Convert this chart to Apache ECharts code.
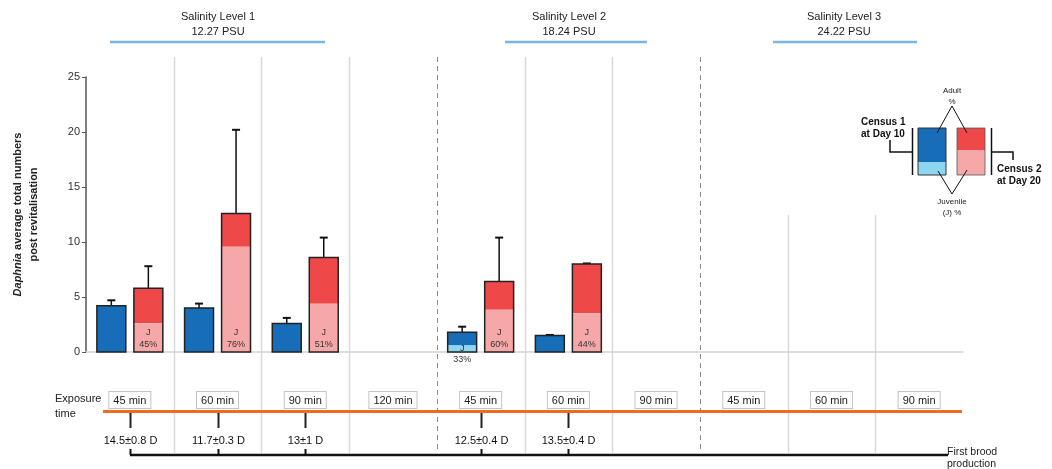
<!DOCTYPE html>
<html><head><meta charset="utf-8">
<script src="https://cdn.jsdelivr.net/npm/echarts@6/dist/echarts.min.js"></script>
<style>html,body{margin:0;padding:0;background:#fff}#c{width:1052px;height:469px}</style>
</head><body><div id="c"></div>
<script>
// ---------------- data ----------------
const categoryIds = ['S1-45','S1-60','S1-90','S1-120','S2-45','S2-60','S2-90','S3-45','S3-60','S3-90'];
const exposureLabels = ['45 min','60 min','90 min','120 min','45 min','60 min','90 min','45 min','60 min','90 min'];
const census1Totals = [4.2, 4.0, 2.6, null, 1.8, 1.5, null, null, null, null];
const census1ErrUp  = [0.5, 0.4, 0.5, null, 0.5, 0.05, null, null, null, null];
const census1JuvPct = [0, 0, 0, null, 33, 0, null, null, null, null];
const census2Totals = [5.8, 12.6, 8.6, null, 6.4, 8.0, null, null, null, null];
const census2ErrUp  = [2.0, 7.6, 1.8, null, 4.0, 0.05, null, null, null, null];
const census2JuvPct = [45, 76, 51, null, 60, 44, null, null, null, null];
const broodLabels = ['14.5±0.8 D','11.7±0.3 D','13±1 D','','12.5±0.4 D','13.5±0.4 D','','','',''];
const salinityNames = ['Salinity Level 1','Salinity Level 2','Salinity Level 3'];
const salinityPSU = ['12.27 PSU','18.24 PSU','24.22 PSU'];
const yMin = 0, yMax = 25, yStep = 5;

// ---------------- drawing ----------------
const FONT = '"Liberation Sans", Arial, sans-serif';
const chart = echarts.init(document.getElementById('c'));

function barSeries(name, totals, errs, pcts, adultColor, juvColor, side) {
  const data = [];
  totals.forEach((t, i) => { if (t != null) data.push([i, t, errs[i], pcts[i]]); });
  return {
    type: 'custom', name, data, clip: false, z: 5,
    encode: { x: 0, y: 1 },
    renderItem(params, api) {
      const i = api.value(0), total = api.value(1), err = api.value(2), pct = api.value(3);
      const band = api.size([1, 0])[0];
      const w = band * 0.33;
      const p0 = api.coord([i, 0]);
      const cx = p0[0] + side * band * 0.211;
      const y0 = p0[1];
      const yTop = api.coord([i, total])[1];
      const yJ = api.coord([i, total * pct / 100])[1];
      const yErr = api.coord([i, total + err])[1];
      const x = cx - w / 2;
      const ch = [
        { type: 'line', shape: { x1: cx, y1: yTop, x2: cx, y2: yErr }, style: { stroke: '#111', lineWidth: 1.5 } },
        { type: 'line', shape: { x1: cx - 4, y1: yErr, x2: cx + 4, y2: yErr }, style: { stroke: '#111', lineWidth: 2 } },
        { type: 'rect', shape: { x, y: yTop, width: w, height: yJ - yTop }, style: { fill: adultColor } },
        { type: 'rect', shape: { x, y: yJ, width: w, height: y0 - yJ }, style: { fill: juvColor } },
        { type: 'rect', shape: { x, y: yTop, width: w, height: y0 - yTop }, style: { fill: 'none', stroke: '#222', lineWidth: 1.5 } }
      ];
      if (pct > 0) {
        if (y0 - yTop > 30) {
          ch.push({ type: 'text', style: { text: 'J\n' + pct + '%', x: cx, y: y0 - 1, align: 'center', verticalAlign: 'bottom', fontSize: 9, lineHeight: 12, fill: '#333', fontFamily: FONT } });
        } else {
          ch.push({ type: 'text', style: { text: 'J', x: cx, y: y0 + 1, align: 'center', verticalAlign: 'bottom', fontSize: 9, fill: '#333', fontFamily: FONT } });
          ch.push({ type: 'text', style: { text: pct + '%', x: cx, y: y0 + 3, align: 'center', verticalAlign: 'top', fontSize: 9, fill: '#333', fontFamily: FONT } });
        }
      }
      return { type: 'group', children: ch };
    }
  };
}

const option = {
  animation: false,
  backgroundColor: '#fff',
  textStyle: { fontFamily: FONT },
  grid: { left: 86, right: 89, top: 77, bottom: 117 },
  xAxis: {
    type: 'category', data: categoryIds, boundaryGap: true,
    axisLine: { show: true, lineStyle: { color: '#d4d4d4', width: 1.5 } },
    axisTick: { show: false }, splitLine: { show: false },
    axisLabel: {
      interval: 0, margin: 40, formatter: (v, i) => exposureLabels[i],
      fontSize: 11, color: '#222', fontFamily: FONT,
      borderColor: '#c4c4c4', borderWidth: 1, padding: [3, 4, 2, 4], backgroundColor: '#fff'
    }
  },
  yAxis: {
    type: 'value', min: yMin, max: yMax, interval: yStep,
    axisLine: { show: true, lineStyle: { color: '#555', width: 1.5 } },
    axisTick: { show: true, length: 4, lineStyle: { color: '#555' } },
    splitLine: { show: false },
    axisLabel: { fontSize: 11, color: '#333', margin: 6, fontFamily: FONT },
    name: '{i|Daphnia} {b|average total numbers}\n{b|post revitalisation}',
    nameLocation: 'middle', nameRotate: 90, nameGap: 44,
    nameTextStyle: {
      fontSize: 11, fontWeight: 'bold', color: '#222', lineHeight: 16, fontFamily: FONT,
      rich: {
        i: { fontStyle: 'italic', fontWeight: 'bold', fontSize: 11, color: '#222', fontFamily: FONT },
        b: { fontWeight: 'bold', fontSize: 11, color: '#222', fontFamily: FONT }
      }
    }
  },
  series: [
    barSeries('Census 1', census1Totals, census1ErrUp, census1JuvPct, '#176db8', '#8dd6ef', -1),
    barSeries('Census 2', census2Totals, census2ErrUp, census2JuvPct, '#ee4849', '#f6a8a9', 1)
  ]
};
chart.setOption(option);

// decorations positioned from the axis
const cx = i => chart.convertToPixel({ gridIndex: 0 }, [i, 0])[0];
const band = cx(1) - cx(0);
const g = [];
const sepDashed = { 4: true, 7: true };
for (let k = 1; k < categoryIds.length; k++) {
  const x = Math.round(cx(k) - band / 2) + 0.5;
  const top = k >= 8 ? 215 : 57;
  g.push({ type: 'line', z: -1, silent: true, shape: { x1: x, y1: top, x2: x, y2: 453 },
    style: sepDashed[k] ? { stroke: '#8a8a8a', lineWidth: 1, lineDash: [5, 4] } : { stroke: '#d9d9d9', lineWidth: 1.5 } });
}
// salinity headers
const hdr = [[218, 110, 325], [569, 505, 647], [844, 773, 917]];
hdr.forEach((h, j) => {
  g.push({ type: 'text', style: { text: salinityNames[j] + '\n' + salinityPSU[j], x: h[0], y: 24, align: 'center', verticalAlign: 'middle', fontSize: 11, lineHeight: 15, fill: '#222', fontFamily: FONT } });
  g.push({ type: 'line', shape: { x1: h[1], y1: 42, x2: h[2], y2: 42 }, style: { stroke: '#7db4e0', lineWidth: 2.5 } });
});
// exposure time
g.push({ type: 'text', style: { text: 'Exposure\ntime', x: 55, y: 406, align: 'left', verticalAlign: 'middle', fontSize: 11, lineHeight: 15, fill: '#222', fontFamily: FONT } });
g.push({ type: 'line', z: 3, shape: { x1: 103, y1: 411.5, x2: 962, y2: 411.5 }, style: { stroke: '#f26a21', lineWidth: 3 } });
// first brood production
let lastX = 948;
broodLabels.forEach((lab, i) => {
  if (!lab) return;
  const x = Math.round(cx(i)) + 0.5;
  g.push({ type: 'line', shape: { x1: x, y1: 413, x2: x, y2: 428 }, style: { stroke: '#222', lineWidth: 2 } });
  g.push({ type: 'text', style: { text: lab, x, y: 441, align: 'center', verticalAlign: 'middle', fontSize: 11, fill: '#111', fontFamily: FONT } });
  g.push({ type: 'line', shape: { x1: x, y1: 449, x2: x, y2: 455 }, style: { stroke: '#111', lineWidth: 2 } });
});
g.push({ type: 'line', shape: { x1: Math.round(cx(0)), y1: 455, x2: lastX, y2: 455 }, style: { stroke: '#111', lineWidth: 2.5 } });
g.push({ type: 'text', style: { text: 'First brood\nproduction', x: 947, y: 458, align: 'left', verticalAlign: 'middle', fontSize: 10.5, lineHeight: 12, fill: '#222', fontFamily: FONT } });

// legend inset
const lg = [
  { type: 'text', style: { text: 'Census 1\nat Day 10', x: 861, y: 128, align: 'left', verticalAlign: 'middle', fontSize: 10, fontWeight: 'bold', lineHeight: 12, fill: '#111', fontFamily: FONT } },
  { type: 'polyline', shape: { points: [[890, 140], [890, 152], [912, 152]] }, style: { stroke: '#111', lineWidth: 1.5, fill: 'none' } },
  { type: 'line', shape: { x1: 912.5, y1: 128, x2: 912.5, y2: 175 }, style: { stroke: '#111', lineWidth: 1.5 } },
  { type: 'rect', shape: { x: 918, y: 128, width: 28, height: 34 }, style: { fill: '#176db8' } },
  { type: 'rect', shape: { x: 918, y: 162, width: 28, height: 13 }, style: { fill: '#8dd6ef' } },
  { type: 'rect', shape: { x: 918, y: 128, width: 28, height: 47 }, style: { fill: 'none', stroke: '#333', lineWidth: 1 } },
  { type: 'rect', shape: { x: 957, y: 128, width: 28, height: 22 }, style: { fill: '#ee4849' } },
  { type: 'rect', shape: { x: 957, y: 150, width: 28, height: 25 }, style: { fill: '#f6a8a9' } },
  { type: 'rect', shape: { x: 957, y: 128, width: 28, height: 47 }, style: { fill: 'none', stroke: '#555', lineWidth: 0.8 } },
  { type: 'line', shape: { x1: 991.5, y1: 128, x2: 991.5, y2: 175 }, style: { stroke: '#111', lineWidth: 1.5 } },
  { type: 'polyline', shape: { points: [[991, 152], [1013, 152], [1013, 160]] }, style: { stroke: '#111', lineWidth: 1.5, fill: 'none' } },
  { type: 'text', style: { text: 'Census 2\nat Day 20', x: 997, y: 175, align: 'left', verticalAlign: 'middle', fontSize: 10, fontWeight: 'bold', lineHeight: 12, fill: '#111', fontFamily: FONT } },
  { type: 'text', style: { text: 'Adult\n%', x: 952, y: 96, align: 'center', verticalAlign: 'middle', fontSize: 8, lineHeight: 11, fill: '#222', fontFamily: FONT } },
  { type: 'polyline', shape: { points: [[937, 133], [952, 106], [967, 133]] }, style: { stroke: '#111', lineWidth: 1, fill: 'none' } },
  { type: 'polyline', shape: { points: [[938, 171], [952, 194], [967, 170]] }, style: { stroke: '#111', lineWidth: 1, fill: 'none' } },
  { type: 'text', style: { text: 'Juvenile\n(J) %', x: 952, y: 207, align: 'center', verticalAlign: 'middle', fontSize: 8, lineHeight: 11, fill: '#222', fontFamily: FONT } }
];
chart.setOption({ graphic: { elements: g.concat(lg) } });
</script>
</body></html>
